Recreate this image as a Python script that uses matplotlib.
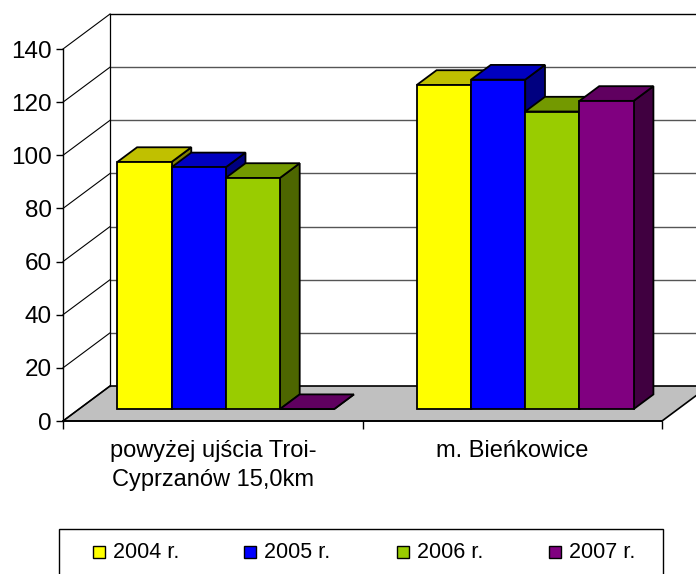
import matplotlib
matplotlib.use('Agg')
from matplotlib import pyplot as plt
from matplotlib.patches import Polygon, Rectangle

plt.rcParams['font.family'] = ['Liberation Sans', 'DejaVu Sans']

categories = ['powyżej ujścia Troi-\nCyprzanów 15,0km', 'm. Bieńkowice']
years = ['2004 r.', '2005 r.', '2006 r.', '2007 r.']
values = {
    '2004 r.': [93, 122],
    '2005 r.': [91, 124],
    '2006 r.': [87, 112],
    '2007 r.': [0, 116],
}
front_colors = ['#FFFF00', '#0000FF', '#99CC00', '#800080']
top_colors = ['#C0C000', '#0000C0', '#739900', '#600060']
side_colors = ['#808000', '#000080', '#4D6600', '#400040']

W, H = 696, 574
fig = plt.figure(figsize=(W / 100, H / 100), dpi=100)
ax = fig.add_axes([63 / W, (H - 421) / H, 599 / W, 372 / H])
ax.set_xlim(0, 2)
ax.set_ylim(0, 140)

# depth of the 3d box in data units
DX = 0.157
DY = 13.17
d0, d1 = 0.34, 0.76      # bar front / back depth fraction
bw = 0.181               # bar width
gap = 0.128


def P(x, y, d):
    return (x + d * DX, y + d * DY)


# floor
ax.add_patch(Polygon([P(0, 0, 0), P(2, 0, 0), P(2, 0, 1), P(0, 0, 1)],
                     closed=True, facecolor='#C0C0C0', edgecolor='black',
                     lw=1.2, clip_on=False, zorder=1))

# walls + gridlines
for v in range(0, 141, 20):
    x0, y0 = P(0, v, 0)
    x1, y1 = P(0, v, 1)
    ax.plot([x0, x1], [y0, y1], color='black', lw=0.8, clip_on=False, zorder=2)
    if v > 0:
        ax.plot([x1, 2 + DX], [y1, y1], color='#555555' if v < 140 else 'black',
                lw=1.0, clip_on=False, zorder=2)
ax.plot([DX, DX], [DY, 140 + DY], color='black', lw=0.9, clip_on=False, zorder=2)

# bars
for g in range(len(categories)):
    for i, yr in enumerate(years):
        v = values[yr][g]
        xl = g + gap + i * bw
        xr = xl + bw
        side = [P(xr, 0, d0), P(xr, 0, d1), P(xr, v, d1), P(xr, v, d0)]
        top = [P(xl, v, d0), P(xr, v, d0), P(xr, v, d1), P(xl, v, d1)]
        front = [P(xl, 0, d0), P(xr, 0, d0), P(xr, v, d0), P(xl, v, d0)]
        for pts, c in ((side, side_colors[i]), (top, top_colors[i]), (front, front_colors[i])):
            ax.add_patch(Polygon(pts, closed=True, facecolor=c, edgecolor='black',
                                 lw=1.3, joinstyle='miter', clip_on=False, zorder=3))

for s in ['top', 'right']:
    ax.spines[s].set_visible(False)
ax.spines['left'].set_linewidth(1.0)
ax.spines['bottom'].set_linewidth(1.2)
ax.spines['left'].set_zorder(4)
ax.spines['bottom'].set_zorder(4)

ax.set_yticks(range(0, 141, 20))
ax.tick_params(axis='y', direction='out', length=5, width=1, pad=3, labelsize=17.5)
ax.set_xticks([0, 1, 2])
ax.set_xticklabels([])
ax.tick_params(axis='x', which='major', direction='out', length=6, width=1)
ax.set_xticks([0.5, 1.5], minor=True)
ax.set_xticklabels(categories, minor=True, fontsize=17, linespacing=1.4)
ax.tick_params(axis='x', which='minor', length=0, pad=14)
for t in ax.get_xticklabels(minor=True):
    t.set_verticalalignment('top')

# legend
def fx(px):
    return px / W


def fy(py):
    return (H - py) / H


fig.patches.append(Rectangle((fx(59), fy(580)), fx(663) - fx(59), fy(529) - fy(580),
                             transform=fig.transFigure, facecolor='white',
                             edgecolor='black', lw=1.0))
for i, yr in enumerate(years):
    mx = [93, 244, 397, 549][i]
    fig.patches.append(Rectangle((fx(mx), fy(558)), 12 / W, 12 / H,
                                 transform=fig.transFigure, facecolor=front_colors[i],
                                 edgecolor='black', lw=1.0))
    fig.text(fx(mx + 20), fy(553), yr, fontsize=15.5, va='center', ha='left')

plt.savefig('out.png', dpi=100)
